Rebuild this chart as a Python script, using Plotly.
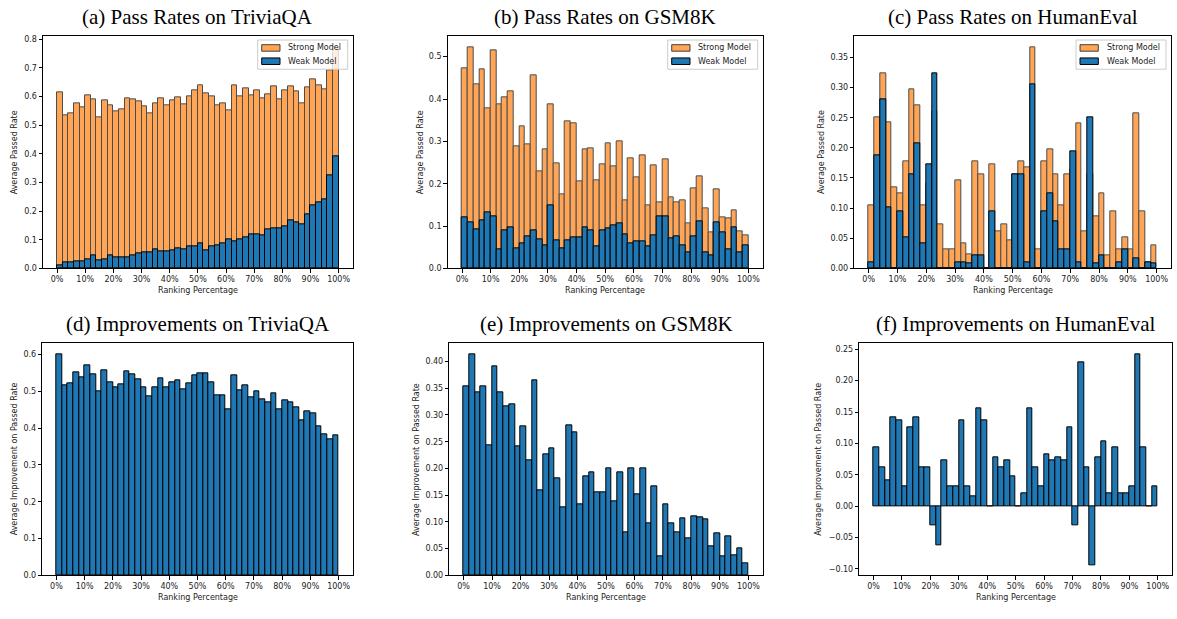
import plotly.graph_objects as go

# ---------------- data ----------------
bin_starts = list(range(0, 100, 2))          # ranking-percentage bins (lower edge, %)
bin_width = 2
tick_vals = list(range(0, 101, 10))
tick_text = [f"{v}%" for v in tick_vals]
series_names = ["Strong Model", "Weak Model"]

tqa_strong = [0.613, 0.535, 0.542, 0.575, 0.563, 0.604, 0.590, 0.527, 0.588, 0.570,
              0.548, 0.556, 0.594, 0.590, 0.583, 0.567, 0.541, 0.576, 0.593, 0.570,
              0.587, 0.598, 0.573, 0.600, 0.620, 0.638, 0.611, 0.601, 0.570, 0.576,
              0.551, 0.640, 0.601, 0.628, 0.603, 0.621, 0.594, 0.608, 0.635, 0.591,
              0.620, 0.637, 0.618, 0.576, 0.632, 0.660, 0.639, 0.626, 0.692, 0.770]
tqa_weak = [0.012, 0.020, 0.020, 0.025, 0.026, 0.033, 0.044, 0.027, 0.031, 0.047,
            0.037, 0.037, 0.040, 0.044, 0.052, 0.057, 0.055, 0.065, 0.058, 0.058,
            0.062, 0.069, 0.067, 0.076, 0.077, 0.089, 0.064, 0.076, 0.082, 0.087,
            0.102, 0.096, 0.100, 0.110, 0.118, 0.120, 0.116, 0.135, 0.140, 0.141,
            0.145, 0.167, 0.162, 0.155, 0.187, 0.221, 0.231, 0.242, 0.325, 0.391]
tqa_impr = [0.600, 0.515, 0.522, 0.550, 0.538, 0.571, 0.547, 0.500, 0.558, 0.523,
            0.510, 0.519, 0.555, 0.546, 0.531, 0.510, 0.487, 0.511, 0.535, 0.510,
            0.525, 0.530, 0.506, 0.522, 0.543, 0.548, 0.548, 0.525, 0.488, 0.489,
            0.450, 0.542, 0.502, 0.516, 0.484, 0.501, 0.479, 0.471, 0.494, 0.451,
            0.474, 0.469, 0.456, 0.421, 0.445, 0.439, 0.406, 0.383, 0.368, 0.380]

gsm_strong = [0.473, 0.522, 0.435, 0.469, 0.377, 0.516, 0.388, 0.405, 0.417, 0.289,
              0.336, 0.292, 0.455, 0.229, 0.282, 0.387, 0.248, 0.175, 0.348, 0.343,
              0.206, 0.282, 0.283, 0.209, 0.246, 0.295, 0.241, 0.300, 0.161, 0.259,
              0.215, 0.267, 0.150, 0.244, 0.157, 0.258, 0.167, 0.156, 0.161, 0.107,
              0.188, 0.218, 0.142, 0.084, 0.186, 0.121, 0.117, 0.136, 0.088, 0.079]
gsm_weak = [0.120, 0.109, 0.092, 0.114, 0.133, 0.124, 0.045, 0.089, 0.096, 0.048,
            0.058, 0.076, 0.090, 0.069, 0.055, 0.150, 0.067, 0.047, 0.067, 0.074,
            0.074, 0.096, 0.089, 0.053, 0.091, 0.095, 0.101, 0.107, 0.081, 0.058,
            0.063, 0.065, 0.052, 0.077, 0.122, 0.124, 0.070, 0.076, 0.055, 0.037,
            0.076, 0.110, 0.037, 0.030, 0.108, 0.085, 0.044, 0.097, 0.038, 0.055]
gsm_impr = [0.353, 0.413, 0.342, 0.354, 0.244, 0.391, 0.342, 0.317, 0.320, 0.241,
            0.278, 0.216, 0.365, 0.159, 0.227, 0.237, 0.181, 0.128, 0.280, 0.268,
            0.132, 0.186, 0.193, 0.156, 0.155, 0.200, 0.139, 0.192, 0.080, 0.200,
            0.151, 0.201, 0.097, 0.166, 0.035, 0.133, 0.097, 0.080, 0.106, 0.070,
            0.111, 0.108, 0.104, 0.054, 0.078, 0.036, 0.073, 0.038, 0.050, 0.022]

he_strong = [0.104, 0.250, 0.323, 0.242, 0.135, 0.125, 0.177, 0.297, 0.271, 0.104,
             0.141, 0.260, 0.073, 0.031, 0.031, 0.146, 0.042, 0.023, 0.177, 0.156,
             0.000, 0.172, 0.062, 0.073, 0.047, 0.156, 0.177, 0.167, 0.367, 0.031,
             0.177, 0.198, 0.156, 0.104, 0.156, 0.164, 0.240, 0.062, 0.156, 0.086,
             0.125, 0.021, 0.094, 0.031, 0.052, 0.031, 0.258, 0.094, 0.010, 0.039]
he_weak = [0.010, 0.188, 0.281, 0.101, 0.000, 0.094, 0.052, 0.156, 0.208, 0.042,
           0.172, 0.323, 0.000, 0.000, 0.000, 0.010, 0.010, 0.008, 0.021, 0.021,
           0.000, 0.094, 0.000, 0.000, 0.000, 0.156, 0.156, 0.010, 0.305, 0.000,
           0.094, 0.125, 0.078, 0.031, 0.031, 0.195, 0.010, 0.000, 0.250, 0.008,
           0.021, 0.000, 0.000, 0.010, 0.031, 0.000, 0.016, 0.000, 0.010, 0.008]
he_impr = [0.094, 0.062, 0.041, 0.141, 0.136, 0.031, 0.125, 0.141, 0.062, 0.062,
           -0.031, -0.062, 0.073, 0.031, 0.031, 0.136, 0.031, 0.016, 0.156, 0.136,
           0.000, 0.078, 0.062, 0.073, 0.047, 0.000, 0.021, 0.156, 0.062, 0.031,
           0.083, 0.073, 0.078, 0.073, 0.125, -0.031, 0.229, 0.062, -0.094, 0.078,
           0.104, 0.021, 0.094, 0.021, 0.021, 0.031, 0.242, 0.094, 0.000, 0.031]

titles = ["(a) Pass Rates on TriviaQA", "(b) Pass Rates on GSM8K", "(c) Pass Rates on HumanEval",
          "(d) Improvements on TriviaQA", "(e) Improvements on GSM8K", "(f) Improvements on HumanEval"]
ylabels_top = "Average Passed Rate"
ylabels_bot = "Average Improvement on Passed Rate"
xlabel = "Ranking Percentage"

# ---------------- layout geometry (pixels) ----------------
W, H = 1177, 619
centers = [b + bin_width / 2 for b in bin_starts]

# (left, right, top, bottom) in pixels
boxes = [(43, 352.7, 35.7, 270), (447.7, 762.7, 35.7, 270), (854.3, 1171, 35.7, 270),
         (42.3, 352.7, 345.7, 580), (449.3, 762.7, 345.7, 580), (859.3, 1172, 345.7, 580)]
yranges = [[0, 0.81], [0, 0.548], [0, 0.385], [0, 0.63], [0, 0.434], [-0.1105, 0.2595]]
ydticks = [0.1, 0.1, 0.05, 0.1, 0.05, 0.05]
yfmt = [".1f", ".1f", ".2f", ".1f", ".2f", ".2f"]
ylabel_x = [14, 420, 821.7, 14, 416.7, 818.3]

ORANGE = "#ff7f0e"
BLUE = "#1f77b4"

fig = go.Figure()

top_sets = [(tqa_strong, tqa_weak), (gsm_strong, gsm_weak), (he_strong, he_weak)]
bot_sets = [tqa_impr, gsm_impr, he_impr]

for i, (s, w) in enumerate(top_sets):
    ax = "" if i == 0 else str(i + 1)
    fig.add_trace(go.Bar(x=centers, y=s, width=bin_width, name=series_names[0],
                         marker=dict(color=ORANGE, line=dict(color="black", width=1)),
                         opacity=0.7, xaxis="x" + ax, yaxis="y" + ax, showlegend=False))
    fig.add_trace(go.Bar(x=centers, y=w, width=bin_width, name=series_names[1],
                         marker=dict(color=BLUE, line=dict(color="black", width=1)),
                         xaxis="x" + ax, yaxis="y" + ax, showlegend=False))

for j, imp in enumerate(bot_sets):
    ax = str(j + 4)
    fig.add_trace(go.Bar(x=centers, y=imp, width=bin_width, name="Improvement",
                         marker=dict(color=BLUE, line=dict(color="black", width=1)),
                         xaxis="x" + ax, yaxis="y" + ax, showlegend=False))

layout = dict(width=W, height=H, margin=dict(l=0, r=0, t=0, b=0),
              paper_bgcolor="white", plot_bgcolor="white", barmode="overlay",
              font=dict(family="DejaVu Sans", size=8, color="#222"),
              bargap=0, annotations=[], shapes=[], showlegend=False)

tick_font = dict(family="DejaVu Sans", size=8, color="#222")
for k, (l, r, t, b) in enumerate(boxes):
    n = "" if k == 0 else str(k + 1)
    xd = [l / W, r / W]
    yd = [1 - b / H, 1 - t / H]
    layout["xaxis" + n] = dict(domain=xd, anchor="y" + n, range=[-5, 105],
                               tickmode="array", tickvals=tick_vals, ticktext=tick_text,
                               showline=True, mirror=True, linecolor="black", linewidth=1,
                               ticks="outside", ticklen=3.5, tickwidth=0.8, tickcolor="black",
                               showgrid=False, zeroline=False, tickfont=tick_font)
    layout["yaxis" + n] = dict(domain=yd, anchor="x" + n, range=yranges[k],
                               dtick=ydticks[k], tick0=0, tickformat=yfmt[k],
                               showline=True, mirror=True, linecolor="black", linewidth=1,
                               ticks="outside", ticklen=3.5, tickwidth=0.8, tickcolor="black",
                               showgrid=False, zeroline=False, tickfont=tick_font)
    cx = (l + r) / 2 / W
    layout["annotations"].append(dict(text=titles[k], x=cx, y=1 - ((t - 20) / H),
                                      xref="paper", yref="paper", showarrow=False,
                                      xanchor="center", yanchor="middle",
                                      font=dict(family="Liberation Serif", size=21, color="black")))
    layout["annotations"].append(dict(text=xlabel, x=cx, y=1 - ((b + 22) / H),
                                      xref="paper", yref="paper", showarrow=False,
                                      xanchor="center", yanchor="middle",
                                      font=dict(family="DejaVu Sans", size=8, color="#222")))
    layout["annotations"].append(dict(text=ylabels_top if k < 3 else ylabels_bot,
                                      x=ylabel_x[k] / W, y=1 - ((t + b) / 2 / H),
                                      xref="paper", yref="paper", showarrow=False,
                                      textangle=-90, xanchor="center", yanchor="middle",
                                      font=dict(family="DejaVu Sans", size=8, color="#222")))

# matplotlib-style legend box in each top panel
def px(x): return x / W
def py(y): return 1 - y / H

legend_styles = [dict(fillcolor="rgba(255,127,14,0.7)", line=dict(color="rgba(0,0,0,0.7)", width=1)),
                 dict(fillcolor=BLUE, line=dict(color="black", width=1))]
for i in range(3):
    l, r, t, b = boxes[i]
    bx0, bx1, by0, by1 = r - 95, r - 5, t + 3.7, t + 33.2
    layout["shapes"].append(dict(type="rect", xref="paper", yref="paper", layer="above",
                                 x0=px(bx0), x1=px(bx1), y0=py(by1), y1=py(by0),
                                 fillcolor="rgba(255,255,255,0.8)",
                                 line=dict(color="#cccccc", width=1)))
    for row, name in enumerate(series_names):
        cy = by0 + 8 + row * 13.4
        st = legend_styles[row]
        layout["shapes"].append(dict(type="rect", xref="paper", yref="paper", layer="above",
                                     x0=px(bx0 + 4), x1=px(bx0 + 22.3),
                                     y0=py(cy + 3.3), y1=py(cy - 3.3),
                                     fillcolor=st["fillcolor"], line=st["line"]))
        layout["annotations"].append(dict(text=name, x=px(bx0 + 28.5), y=py(cy),
                                          xref="paper", yref="paper", showarrow=False,
                                          xanchor="left", yanchor="middle",
                                          font=dict(family="DejaVu Sans", size=8, color="#222")))

fig.update_layout(**layout)
fig.write_html("out.html")
